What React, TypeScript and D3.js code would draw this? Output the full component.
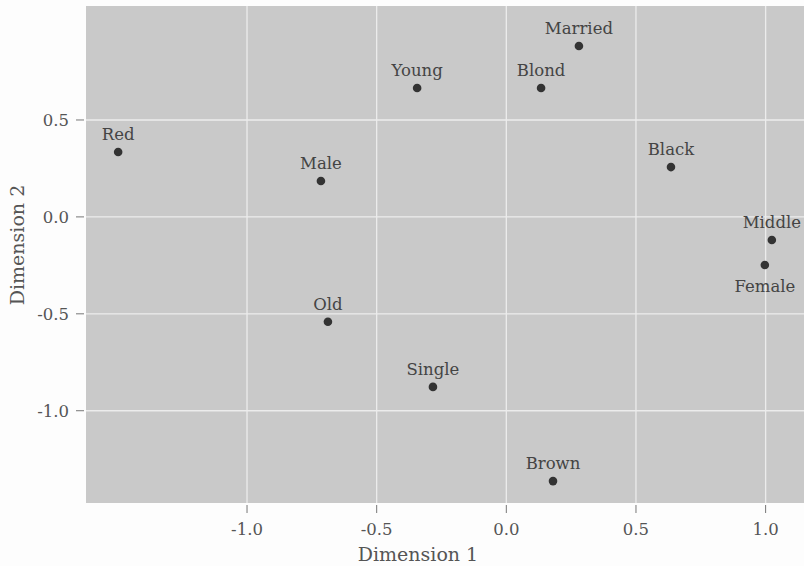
import React from "react";
import * as d3 from "d3";

const labels = ["Red", "Male", "Young", "Blond", "Married", "Black", "Middle", "Female", "Old", "Single", "Brown"];
const dim1 = [-1.497, -0.715, -0.344, 0.134, 0.280, 0.635, 1.024, 0.997, -0.688, -0.283, 0.180];
const dim2 = [0.335, 0.185, 0.665, 0.665, 0.882, 0.257, -0.119, -0.248, -0.541, -0.877, -1.363];
const labelBelow = ["Female"];
const xTicks = [-1.0, -0.5, 0.0, 0.5, 1.0];
const yTicks = [-1.0, -0.5, 0.0, 0.5];

const W = 804, H = 566;
const left = 86, right = 804, top = 6, bottom = 503;

export default function App() {
  const x = d3.scaleLinear().domain([-1.621, 1.148]).range([left, right]);
  const y = d3.scaleLinear().domain([1.088, -1.476]).range([top, bottom]);
  const font = "'DejaVu Serif', serif";
  const fmt = (v: number) => v.toFixed(1).replace("−", "-");
  return (
    <svg width={W} height={H} style={{ position: "absolute", left: 0, top: 0, background: "#fdfdfd" }}>
      <rect x={left} y={top} width={right - left} height={bottom - top} fill="#c9c9c9" />
      {xTicks.map((t) => (
        <g key={"x" + t}>
          <line x1={x(t)} x2={x(t)} y1={top} y2={bottom} stroke="#ececec" strokeWidth={1.3} />
          <line x1={x(t)} x2={x(t)} y1={bottom + 2} y2={bottom + 10} stroke="#777" strokeWidth={1} />
          <text x={x(t)} y={535} textAnchor="middle" fontFamily={font} fontSize={16.5} fill="#555">
            {fmt(t)}
          </text>
        </g>
      ))}
      {yTicks.map((t) => (
        <g key={"y" + t}>
          <line x1={left} x2={right} y1={y(t)} y2={y(t)} stroke="#ececec" strokeWidth={1.3} />
          <line x1={left - 10} x2={left - 2} y1={y(t)} y2={y(t)} stroke="#777" strokeWidth={1} />
          <text x={69} y={y(t)} dy="0.35em" textAnchor="end" fontFamily={font} fontSize={16.5} fill="#555">
            {fmt(t)}
          </text>
        </g>
      ))}
      {labels.map((l, i) => {
        const below = labelBelow.includes(l);
        return (
          <g key={l}>
            <circle cx={x(dim1[i])} cy={y(dim2[i])} r={4.3} fill="#333" />
            <text
              x={x(dim1[i])}
              y={below ? y(dim2[i]) + 27 : y(dim2[i]) - 12}
              textAnchor="middle"
              fontFamily={font}
              fontSize={16.5}
              fill="#444"
            >
              {l}
            </text>
          </g>
        );
      })}
      <text x={418} y={561} textAnchor="middle" fontFamily={font} fontSize={19} fill="#555">
        Dimension 1
      </text>
      <text
        transform={`translate(24, 245) rotate(-90)`}
        textAnchor="middle"
        fontFamily={font}
        fontSize={19}
        fill="#555"
      >
        Dimension 2
      </text>
    </svg>
  );
}
